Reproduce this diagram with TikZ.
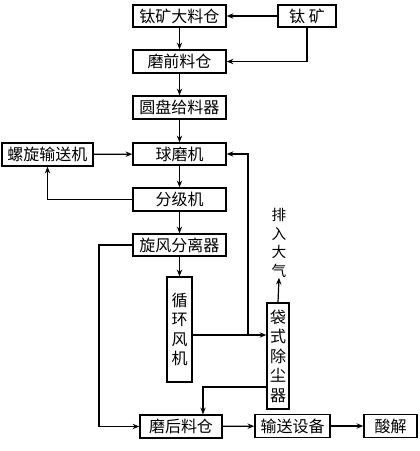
\documentclass[tikz,border=0pt]{standalone}
\usepackage{fontspec}
\newfontfamily\cjk{Noto Sans CJK SC}
\usetikzlibrary{arrows.meta}
\begin{document}
\begin{tikzpicture}[x=0.75pt,y=-0.75pt,
  box/.style={draw,line width=1.1pt,inner sep=0pt,font=\cjk\fontsize{12}{14}\selectfont},
  vbox/.style={box,align=center,font=\cjk\fontsize{12}{14.4}\selectfont},
  conn/.style={line width=0.9pt,-{Stealth[length=5pt,width=4pt]}},
  plain/.style={line width=0.9pt}]
\useasboundingbox (0,0) rectangle (420,451);
\node[box,minimum width=69.75pt,minimum height=16.5pt] (bigbin) at (179.5,16) {钛矿大料仓};
\node[box,minimum width=43.5pt,minimum height=16.5pt] (ore) at (307,16) {钛\ 矿};
\node[box,minimum width=69.75pt,minimum height=17.25pt] (prebin) at (179.5,61.5) {磨前料仓};
\node[box,minimum width=69.75pt,minimum height=17.25pt] (feeder) at (179.5,107.5) {圆盘给料器};
\node[box,minimum width=69.75pt,minimum height=16.5pt] (mill) at (179.5,154) {球磨机};
\node[box,minimum width=68.25pt,minimum height=17.25pt] (screw) at (47.5,154.5) {螺旋输送机};
\node[box,minimum width=69.75pt,minimum height=17.25pt] (classifier) at (179.5,199.5) {分级机};
\node[box,minimum width=69.75pt,minimum height=16.5pt] (cyclone) at (179.5,245) {旋风分离器};
\node[vbox,minimum width=18.75pt,minimum height=78.75pt] (fan) at (179.5,329.5) {循\\环\\风\\机};
\node[vbox,minimum width=16.5pt,minimum height=79.5pt,font=\cjk\fontsize{12}{14.6}\selectfont] (bag) at (278,356) {袋\\式\\除\\尘\\器};
\node[box,minimum width=61.5pt,minimum height=17.25pt] (postbin) at (181,426.5) {磨后料仓};
\node[box,minimum width=56.25pt,minimum height=17.25pt] (conveyor) at (292.5,426) {输送设备};
\node[box,minimum width=39.75pt,minimum height=17.25pt] (acid) at (390.5,426) {酸解};
\node[align=center,inner sep=0pt,font=\cjk\fontsize{11}{13.9}\selectfont] (air) at (279,243) {排\\入\\大\\气};
\coordinate (j) at (248,335);
\draw[conn] (ore) -- (bigbin);
\draw[conn] (ore.south) |- (prebin.east);
\draw[conn] (bigbin) -- (prebin);
\draw[conn] (prebin) -- (feeder);
\draw[conn] (feeder) -- (mill);
\draw[conn] (screw) -- (mill);
\draw[conn] (mill) -- (classifier);
\draw[conn] (classifier.west) -| (screw.south);
\draw[conn] (classifier) -- (cyclone);
\draw[conn] (cyclone) -- (fan);
\draw[conn] (cyclone.west) -- (99,245) |- (postbin.west);
\draw[conn] (fan.east |- j) -- (bag.west |- j);
\draw[conn] (j) |- (mill.east);
\draw[conn] (bag.north) -- (air.south);
\draw[conn] (bag.west |- 0,387) -| (203,0 |- postbin.north);
\draw[conn] (postbin) -- (conveyor);
\draw[conn] (conveyor) -- (acid);
\end{tikzpicture}
\end{document}
